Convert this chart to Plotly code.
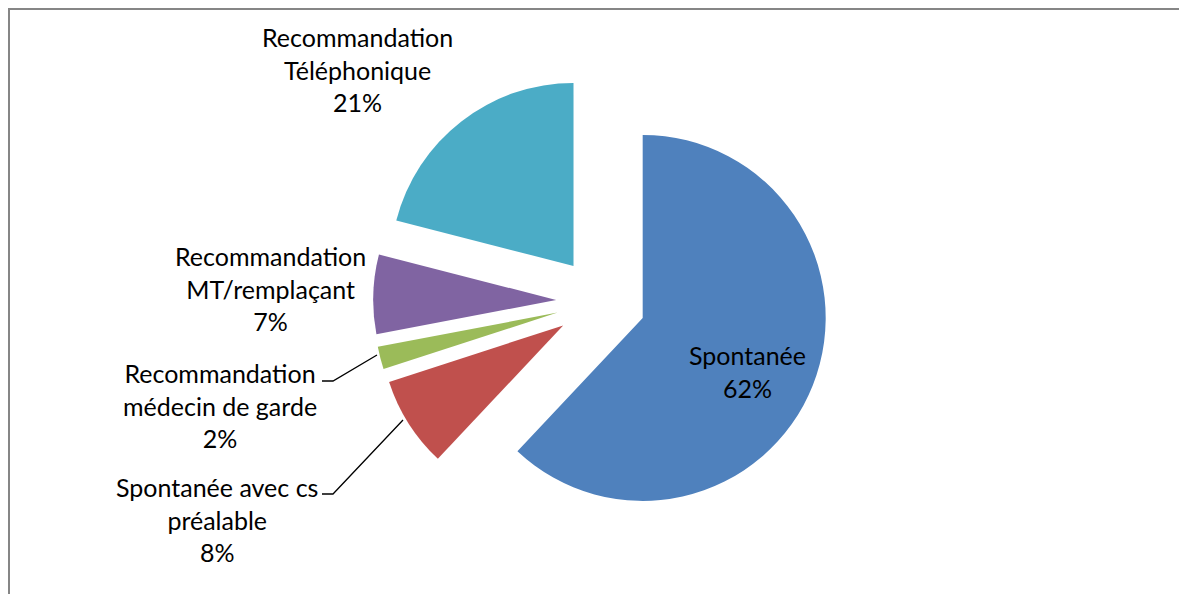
import plotly.graph_objects as go

# page body has an 8px margin; figure fills the rest of the window
OFF = 8
W, H = 1187 - OFF, 594 - OFF

labels = ["Spontanée", "Spontanée avec cs préalable", "Recommandation médecin de garde",
          "Recommandation MT/remplaçant", "Recommandation Téléphonique"]
values = [62, 8, 2, 7, 21]
colors = ["#4F81BD", "#C0504D", "#9BBB59", "#8064A2", "#4BACC6"]
label_lines = [["Spontanée"], ["Spontanée avec cs", "préalable"],
               ["Recommandation", "médecin de garde"], ["Recommandation", "MT/remplaçant"],
               ["Recommandation", "Téléphonique"]]

pull = 0.245
cx, cy, r = 601, 301.4, 183
half = r * (1 + pull)


def px(x):
    return (x - OFF) / W


def py(y):
    return 1 - (y - OFF) / H


fig = go.Figure(go.Pie(
    labels=labels, values=values, sort=False, direction="clockwise", rotation=0,
    pull=[pull] * len(values), marker=dict(colors=colors, line=dict(width=0)),
    textinfo="none", hoverinfo="label+percent", showlegend=False,
    domain=dict(x=[px(cx - half), px(cx + half)], y=[py(cy + half), py(cy - half)]),
))

total = sum(values)
# label block centres (screen pixel coords of middle line)
label_pos = [(747, 371), (217, 519), (220, 405), (270, 288), (357, 69)]
font = dict(family="Lato, Carlito, Calibri, sans-serif", size=25, color="#000000")
annotations = []
for i, (lines, v) in enumerate(zip(label_lines, values)):
    txt = "<br>".join(lines + [f"{round(100 * v / total)}%"])
    x, y = label_pos[i]
    annotations.append(dict(x=px(x), y=py(y), xref="paper", yref="paper", text=txt,
                            showarrow=False, xanchor="center", yanchor="middle",
                            align="center", font=font))

shapes = [
    # chart-area border (left and top edges visible in the crop)
    dict(type="path", xref="paper", yref="paper",
         path=f"M {px(9)} {py(620)} L {px(9)} {py(9)} L {px(1230)} {py(9)}",
         line=dict(color="#868686", width=2)),
    # leader lines
    dict(type="path", xref="paper", yref="paper",
         path=f"M {px(322)} {py(381)} L {px(333)} {py(381)} L {px(377)} {py(355)}",
         line=dict(color="#000000", width=1.3)),
    dict(type="path", xref="paper", yref="paper",
         path=f"M {px(322)} {py(494)} L {px(333)} {py(494)} L {px(403)} {py(420)}",
         line=dict(color="#000000", width=1.3)),
]

fig.update_layout(width=W, height=H, margin=dict(l=0, r=0, t=0, b=0),
                  paper_bgcolor="white", plot_bgcolor="white",
                  annotations=annotations, shapes=shapes)

fig.write_html("out.html")
